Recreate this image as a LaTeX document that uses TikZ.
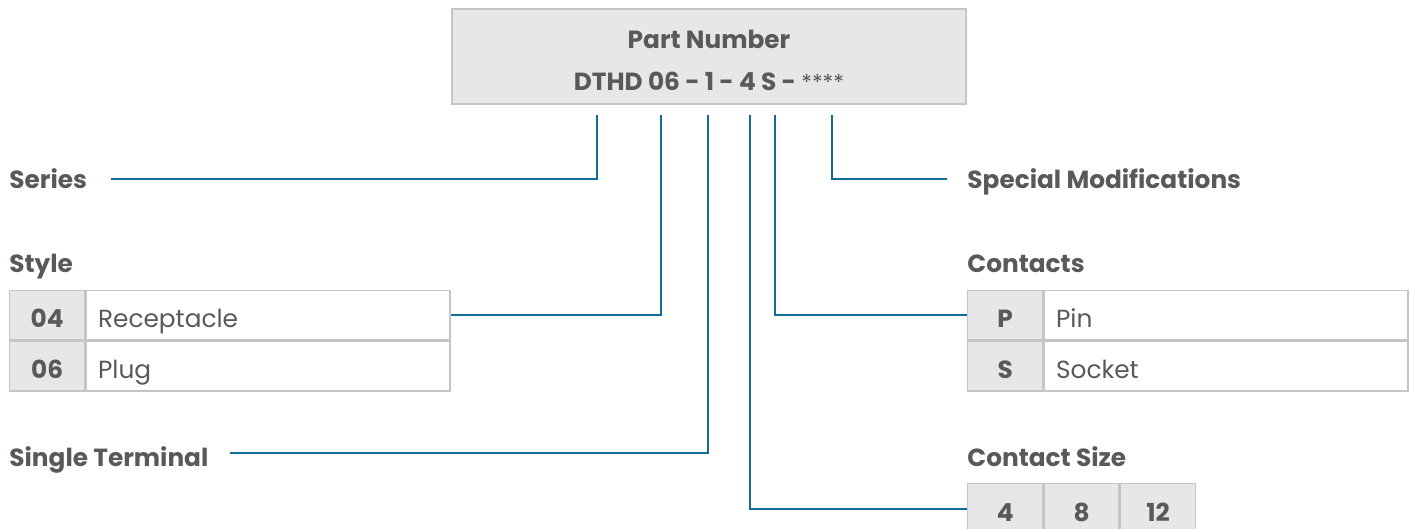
\documentclass[tikz,border=0pt]{standalone}
\usepackage{fontspec}
\setmainfont{Poppins}
\usetikzlibrary{positioning}

\definecolor{txtgray}{RGB}{88,89,91}
\definecolor{cellgray}{RGB}{230,231,232}
\definecolor{rulegray}{RGB}{196,197,199}
\definecolor{leadblue}{RGB}{18,108,152}

\tikzset{
  lbl/.style={font=\bfseries\fontsize{12.4}{14}\selectfont,text=txtgray,inner sep=0,anchor=base west},
  head/.style={font=\bfseries\fontsize{12.4}{14}\selectfont,text=txtgray,inner sep=0,anchor=base},
  keycell/.style={draw=rulegray,line width=.7pt,fill=cellgray,inner sep=0,
    minimum width=37.5pt,minimum height=24.7pt,text height=12pt,text depth=0pt,
    font=\bfseries\fontsize{12.4}{14}\selectfont,text=txtgray},
  valcell/.style={draw=rulegray,line width=.7pt,inner ysep=0,inner xsep=6pt,
    text width=170pt,align=left,minimum height=24.7pt,text height=12pt,text depth=0pt,
    font=\fontsize{12.4}{14}\selectfont,text=txtgray},
  lead/.style={draw=leadblue,line width=1pt}
}

\begin{document}
\begin{tikzpicture}[x=0.5pt,y=-0.5pt]
\useasboundingbox (0,0) rectangle (1414,529);

% part number
\node[draw=rulegray,line width=.7pt,fill=cellgray,inner sep=0,minimum width=257pt,minimum height=47.5pt] (pnbox) at (709,56.5) {};
\node[head] (pn) at (709,49) {Part Number};
\node[head] (code) at (709,91) {DTHD 06 - 1 - 4 S - {\mdseries\fontsize{11}{13}\selectfont ****}};

% stubs under the code
\coordinate (cSeries) at (597,115);
\coordinate (cStyle) at (661,115);
\coordinate (cTerm) at (708,115);
\coordinate (cSize) at (750,115);
\coordinate (cCont) at (775,115);
\coordinate (cMod) at (832,115);

% left side
\node[lbl] (series) at (9,189) {Series};
\node[lbl] (style) at (9,273) {Style};
\node[keycell,anchor=north west] (k04) at (9,290) {04};
\node[valcell,anchor=west] (v04) at (k04.east) {Receptacle};
\node[keycell,below=0pt of k04] (k06) {06};
\node[valcell,anchor=west] (v06) at (k06.east) {Plug};
\node[lbl] (term) at (9,466) {Single Terminal};

% right side
\node[lbl] (mods) at (967,189) {Special Modifications};
\node[lbl] (cont) at (967,273) {Contacts};
\node[keycell,anchor=north west] (kP) at (967,290) {P};
\node[valcell,anchor=west] (vP) at (kP.east) {Pin};
\node[keycell,below=0pt of kP] (kS) {S};
\node[valcell,anchor=west] (vS) at (kS.east) {Socket};
\node[lbl] (csize) at (967,466) {Contact Size};
\node[keycell,anchor=north west,minimum height=25.5pt] (s4) at (967,483) {4};
\node[keycell,right=0pt of s4,minimum height=25.5pt] (s8) {8};
\node[keycell,right=0pt of s8,minimum height=25.5pt] (s12) {12};

% leaders
\coordinate (eSeries) at (111,179);
\coordinate (eTerm) at (230,453);
\coordinate (eMod) at (947,179);
\draw[lead] (eSeries) -| (cSeries);
\draw[lead] (v04.east) -| (cStyle);
\draw[lead] (eTerm) -| (cTerm);
\draw[lead] (cSize) |- (s4.west);
\draw[lead] (cCont) |- (kP.west);
\draw[lead] (cMod) |- (eMod);
\end{tikzpicture}
\end{document}
